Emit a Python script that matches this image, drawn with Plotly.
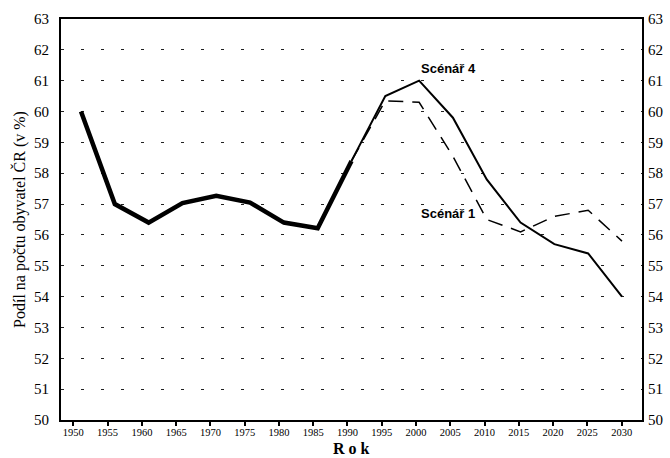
import plotly.graph_objects as go

# Data
years_hist = [1950, 1955, 1960, 1965, 1970, 1975, 1980, 1985, 1990]
share_hist = [60.0, 57.0, 56.4, 57.03, 57.27, 57.05, 56.4, 56.22, 58.4]

years_scen = [1990, 1995, 2000, 2005, 2010, 2015, 2020, 2025, 2030]
scen4 = [58.4, 60.5, 61.0, 59.8, 57.8, 56.4, 55.7, 55.4, 54.0]
scen1 = [58.4, 60.35, 60.3, 58.55, 56.5, 56.1, 56.6, 56.8, 55.8]

tick_years = list(range(1950, 2031, 5))
y_ticks = list(range(50, 64))

serif = "Liberation Serif, Times New Roman, serif"
narrow = "Liberation Sans Narrow, Arial Narrow, Arial, sans-serif"

fig = go.Figure()
fig.add_trace(go.Scatter(x=years_hist, y=share_hist, mode="lines",
                         line=dict(color="black", width=4.5), xaxis="x2", yaxis="y",
                         showlegend=False))
fig.add_trace(go.Scatter(x=years_scen, y=scen1, mode="lines",
                         line=dict(color="black", width=1.5, dash="15px,9px"),
                         xaxis="x2", yaxis="y", showlegend=False))
fig.add_trace(go.Scatter(x=years_scen, y=scen4, mode="lines",
                         line=dict(color="black", width=2), xaxis="x2", yaxis="y",
                         showlegend=False))
# invisible trace to activate right axis
fig.add_trace(go.Scatter(x=[2000], y=[55], mode="markers", marker=dict(opacity=0),
                         xaxis="x", yaxis="y2", showlegend=False, hoverinfo="skip"))

fig.update_layout(
    width=670, height=458,
    margin=dict(l=61, r=28, t=19, b=38),
    paper_bgcolor="white", plot_bgcolor="white",
    font=dict(family=serif, color="black"),
    xaxis=dict(range=[1948.2, 2032.97], tickvals=tick_years, ticktext=[str(t) for t in tick_years],
               ticks="outside", ticklen=4, tickwidth=1.5, tickcolor="black", automargin=False,
               ticklabelstandoff=-3,
               showline=True, linecolor="black", linewidth=2, mirror=True,
               showgrid=False, zeroline=False, tickfont=dict(size=10.5, family=serif)),
    xaxis2=dict(range=[1947.04, 2032.96], overlaying="x", visible=False),
    yaxis=dict(range=[50, 63], tickvals=y_ticks, ticks="", showline=True, linecolor="black",
               linewidth=2, mirror=True, showgrid=True, gridcolor="#222", gridwidth=1.3,
               griddash="3px,17px", zeroline=False, tickfont=dict(size=15, family=serif),
               ticklabelstandoff=7, automargin=False,
               title=dict(text="Podíl na počtu obyvatel ČR (v %)", font=dict(size=16, family=serif),
                          standoff=4)),
    yaxis2=dict(range=[50, 63], tickvals=y_ticks, overlaying="y", side="right", ticks="",
                showgrid=False, zeroline=False, showline=False, automargin=False,
                tickfont=dict(size=15, family=serif), ticklabelstandoff=5),
    annotations=[
        dict(x=2004.7, y=61.41, xref="x", yref="y", text="<b>Scénář 4</b>", showarrow=False,
             font=dict(size=13, family=narrow)),
        dict(x=2004.7, y=56.68, xref="x", yref="y", text="<b>Scénář 1</b>", showarrow=False,
             font=dict(size=13, family=narrow)),
        dict(x=0.5, y=-0.094, xref="paper", yref="paper", text="<b>R o k</b>", showarrow=False,
             yanchor="bottom", borderpad=0, font=dict(size=16, family=serif)),
    ],
)

fig.write_html("out.html", config={"displayModeBar": False},
               post_script="document.body.style.margin='0';document.body.style.overflow='hidden';")
